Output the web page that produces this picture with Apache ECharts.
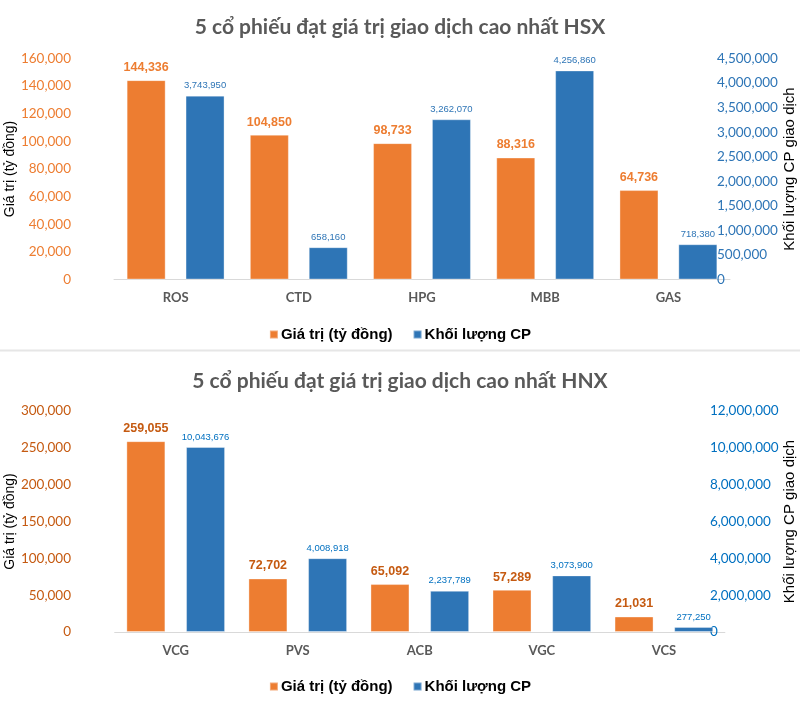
<!DOCTYPE html>
<html>
<head>
<meta charset="utf-8">
<script src="https://cdn.jsdelivr.net/npm/echarts@6/dist/echarts.min.js"></script>
<style>
html,body{margin:0;padding:0;background:#fff;}
#c{width:800px;height:728px;}
</style>
</head>
<body>
<div id="c"></div>
<script>
// ---- Data ----
const titleHSX = '5 cổ phiếu đạt giá trị giao dịch cao nhất HSX';
const titleHNX = '5 cổ phiếu đạt giá trị giao dịch cao nhất HNX';
const seriesNames = ['Giá trị (tỷ đồng)', 'Khối lượng CP'];
const leftAxisName = 'Giá trị (tỷ đồng)';
const rightAxisName = 'Khối lượng CP giao dịch';

const categoriesHSX = ['ROS', 'CTD', 'HPG', 'MBB', 'GAS'];
const valueHSX = [144336, 104850, 98733, 88316, 64736];
const volumeHSX = [3743950, 658160, 3262070, 4256860, 718380];

const categoriesHNX = ['VCG', 'PVS', 'ACB', 'VGC', 'VCS'];
const valueHNX = [259055, 72702, 65092, 57289, 21031];
const volumeHNX = [10043676, 4008918, 2237789, 3073900, 277250];

// axis ranges (tick labels)
const hsxLeft = {min: 0, max: 160000, interval: 20000};
const hsxRight = {min: 0, max: 4500000, interval: 500000};
const hnxLeft = {min: 0, max: 300000, interval: 50000};
const hnxRight = {min: 0, max: 12000000, interval: 2000000};

// ---- Styles ----
const ORANGE = '#ED7D31';
const BLUE = '#2E75B6';
const fmt = v => Number(v).toLocaleString('en-US');
const tickFont = 'Lato';
const labelFont = 'Liberation Sans';

function yAxisDef(range, gridIndex, pos, color, margin, nameGap) {
  return {
    type: 'value', gridIndex: gridIndex, position: pos,
    min: range.min, max: range.max, interval: range.interval,
    name: pos === 'left' ? leftAxisName : rightAxisName,
    nameLocation: 'middle', nameGap: nameGap, nameRotate: 90, nameMoveOverlap: false,
    nameTextStyle: {color: '#000', fontSize: pos === 'left' ? 14 : 15, fontFamily: 'Liberation Sans'},
    axisLine: {show: false}, axisTick: {show: false}, splitLine: {show: false},
    axisLabel: {color: color, fontSize: 13.5, fontFamily: tickFont, margin: margin, formatter: fmt}
  };
}
function xAxisDef(cats, gridIndex) {
  return {
    type: 'category', gridIndex: gridIndex, data: cats,
    axisLine: {lineStyle: {color: '#D9D9D9', width: 1}},
    axisTick: {show: false},
    axisLabel: {color: '#595959', fontWeight: 'bold', fontSize: 13, fontFamily: tickFont, margin: 12}
  };
}
function barSeries(name, data, xi, yi, color, labelColor, labelBold, labelSize, dist, gap) {
  return {
    type: 'bar', name: name, data: data, xAxisIndex: xi, yAxisIndex: yi,
    barWidth: 39, barGap: gap,
    itemStyle: {color: color, borderColor: 'rgba(255,255,255,0.35)', borderWidth: 1},
    label: {show: true, position: 'top', distance: dist, color: labelColor,
      fontWeight: labelBold ? 'bold' : 'normal', fontSize: labelSize, fontFamily: labelFont, formatter: p => fmt(p.value)},
    emphasis: {disabled: true}
  };
}

const chart = echarts.init(document.getElementById('c'), null, {renderer: 'canvas'});
chart.setOption({
  animation: false,
  backgroundColor: '#fff',
  color: [ORANGE, BLUE],
  title: [
    {text: titleHSX, left: 'center', top: 12, textStyle: {color: '#595959', fontSize: 21, fontWeight: 'bold', fontFamily: 'Lato'}},
    {text: titleHNX, left: 'center', top: 366, textStyle: {color: '#595959', fontSize: 21, fontWeight: 'bold', fontFamily: 'Lato'}}
  ],
  legend: [
    {data: seriesNames, top: 322, left: 'center', icon: 'rect', itemWidth: 8, itemHeight: 8, itemGap: 20,
      textStyle: {color: '#000', fontSize: 15, fontWeight: 'bold', fontFamily: 'Liberation Sans', padding: [0, 0, 0, -2]}},
    {data: seriesNames, top: 674, left: 'center', icon: 'rect', itemWidth: 8, itemHeight: 8, itemGap: 20,
      textStyle: {color: '#000', fontSize: 15, fontWeight: 'bold', fontFamily: 'Liberation Sans', padding: [0, 0, 0, -2]}}
  ],
  grid: [
    {left: 114, top: 58.5, width: 616, height: 221, containLabel: false, outerBoundsMode: 'none'},
    {left: 114.7, top: 411, width: 610.2, height: 221, containLabel: false, outerBoundsMode: 'none'}
  ],
  xAxis: [xAxisDef(categoriesHSX, 0), xAxisDef(categoriesHNX, 1)],
  yAxis: [
    yAxisDef(hsxLeft, 0, 'left', ORANGE, 43, 97),
    yAxisDef(hsxRight, 0, 'right', BLUE, -13, 52.5),
    yAxisDef(hnxLeft, 1, 'left', '#C55A11', 43.7, 97.7),
    yAxisDef(hnxRight, 1, 'right', '#0070C0', -15, 57.6)
  ],
  series: [
    barSeries(seriesNames[0], valueHSX, 0, 0, ORANGE, ORANGE, true, 12.5, 6, '51%'),
    barSeries(seriesNames[1], volumeHSX, 0, 1, BLUE, BLUE, false, 9.5, 5, '51%'),
    barSeries(seriesNames[0], valueHNX, 1, 2, ORANGE, '#C55A11', true, 12.5, 6, '53%'),
    barSeries(seriesNames[1], volumeHNX, 1, 3, BLUE, '#0070C0', false, 9.5, 5, '53%')
  ],
  graphic: [
    {type: 'rect', left: 0, top: 349.5, shape: {width: 800, height: 2}, style: {fill: '#E6E6E6'}, silent: true}
  ]
});
</script>
</body>
</html>
